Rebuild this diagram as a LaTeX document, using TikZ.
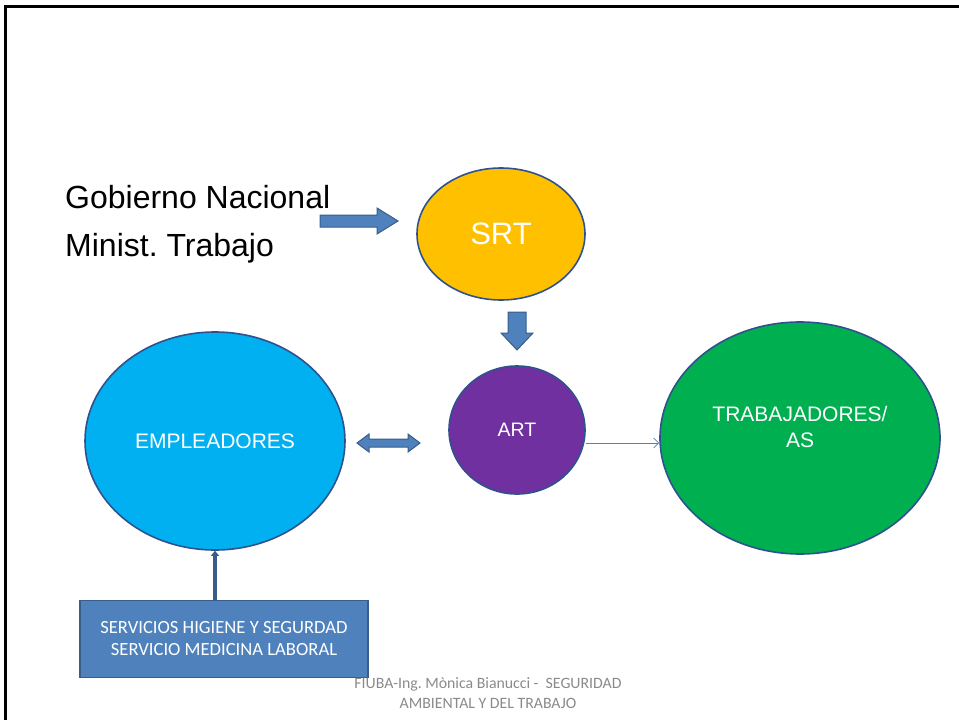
\documentclass[tikz,border=0pt]{standalone}
\usepackage{fontspec}
\setmainfont{Liberation Sans}
\newfontfamily\calibri{Carlito}
\usetikzlibrary{arrows.meta,shapes.geometric}
\frenchspacing

\definecolor{borde}{HTML}{2F528F}
\definecolor{flecha}{HTML}{4F81BD}
\definecolor{flechaborde}{HTML}{385D8A}
\definecolor{amarillo}{HTML}{FFC000}
\definecolor{violeta}{HTML}{7030A0}
\definecolor{celeste}{HTML}{00B0F0}
\definecolor{verde}{HTML}{00B050}
\definecolor{pie}{HTML}{8A8A8A}

\tikzset{
  ente/.style={ellipse, draw=borde, line width=1.6pt, text=white, align=center, inner sep=0pt},
  bloque/.style={fill=flecha, draw=flechaborde, line width=1pt, line join=miter},
}

\begin{document}
\begin{tikzpicture}[x=1pt,y=-1pt]
\useasboundingbox (0,0) rectangle (959,720);
\draw[line width=3pt] (5,720) -- (5,6) -- (962,6);

\node[anchor=base west, align=left, inner sep=0pt, font=\fontsize{32}{48}\selectfont] (gob) at (65,256) {Gobierno Nacional\\Minist. Trabajo};

\node[ente, fill=amarillo, minimum width=168pt, minimum height=132pt, font=\fontsize{31}{36}\selectfont] (srt) at (501,234) {SRT};
\node[ente, fill=violeta, minimum width=136pt, minimum height=128pt, font=\fontsize{19.5}{24}\selectfont] (art) at (517,430) {ART};
\node[ente, fill=celeste, minimum width=260pt, minimum height=218pt, font=\fontsize{21}{26}\selectfont] (emp) at (215,441) {EMPLEADORES};
\node[ente, fill=verde, minimum width=280pt, minimum height=232pt] (trab) at (800,438) {};
\node[text=white, align=center, font=\fontsize{21}{26}\selectfont] (trabtxt) at (800,427) {TRABAJADORES/\\AS};

\node[rectangle, fill=flecha, draw=flechaborde, line width=1.6pt, text=white, align=center,
  minimum width=288pt, minimum height=77pt, font=\calibri\fontsize{18.6}{22}\selectfont] (serv) at (224,639) {SERVICIOS HIGIENE Y SEGURDAD\\SERVICIO MEDICINA LABORAL};

% flechas gruesas
\draw[bloque] (320,215) -- (377,215) -- (377,208) -- (398,221) -- (377,234) -- (377,227) -- (320,227) -- cycle;
\draw[bloque] (508,312) -- (526,312) -- (526,333) -- (533,333) -- (517,350) -- (501,333) -- (508,333) -- cycle;
\draw[bloque] (357,443) -- (369,434) -- (369,439) -- (408,439) -- (408,434) -- (420,443) -- (408,452) -- (408,447) -- (369,447) -- (369,452) -- cycle;

% conectores
\draw[draw=flecha, line width=0.8pt, -{Straight Barb[length=5pt,width=10pt]}] (art.east |- 0,443) -- (trab.west |- 0,443);
\draw[draw=flechaborde, line width=4pt, -{Triangle[length=5pt,width=8pt]}] (serv.north -| emp.south) -- (emp.south);

\node[text=pie, align=center, font=\calibri\fontsize{15.8}{20}\selectfont] (pie) at (488,693) {FIUBA-Ing. Mònica Bianucci -\ \ SEGURIDAD\\AMBIENTAL Y DEL TRABAJO};
\end{tikzpicture}
\end{document}
